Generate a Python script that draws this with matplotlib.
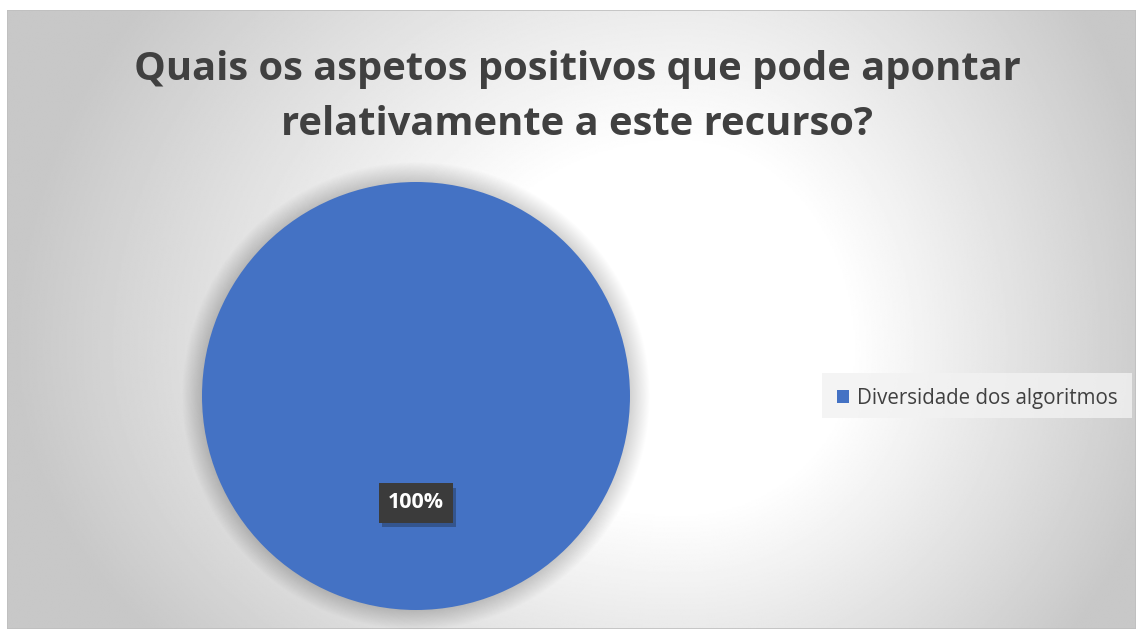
import numpy as np
import matplotlib.pyplot as plt
from matplotlib.patches import Circle, Rectangle
import matplotlib.patheffects as pe

categories = ["Diversidade dos algoritmos"]
values = [100]
title = "Quais os aspetos positivos que pode apontar\nrelativamente a este recurso?"
colors = ["#4472C4"]

W, H = 1136, 631
fig = plt.figure(figsize=(W / 100, H / 100), dpi=100)
fig.patch.set_facecolor("white")

# chart area background (radial gradient)
x0, y0, x1, y1 = 7, 10, 1136, 629
bg = fig.add_axes([x0 / W, 1 - y1 / H, (x1 - x0) / W, (y1 - y0) / H])
xs = np.linspace(x0, x1, 700)
ys = np.linspace(y0, y1, 450)
X, Y = np.meshgrid(xs, ys)
cx, cy = 680, 350
dx = np.where(X < cx, (X - cx) / 1.35, X - cx)
dy = np.where(Y < cy, (Y - cy) / 1.2, (Y - cy) / 0.95)
d = np.sqrt(dx ** 2 + dy ** 2)
t = np.clip((d - 170) / 320.0, 0, 1)
col = 1.0 - t * (1.0 - 0.785)
bg.imshow(col, cmap="gray", vmin=0, vmax=1, aspect="auto",
          extent=[0, 1, 0, 1], origin="upper", interpolation="bilinear")
bg.set_xlim(0, 1)
bg.set_ylim(0, 1)
bg.axis("off")
bg.add_patch(Rectangle((0, 0), 1, 1, transform=bg.transAxes, fill=False,
                       edgecolor="#bfbfbf", lw=1.2))

# title
fig.text(577 / W, 1 - 97 / H, title, ha="center", va="center",
         fontsize=28.7, fontweight="bold", color="#404040",
         family="Open Sans", linespacing=1.52)

# pie
pcx, pcy, r = 416, 396, 214
m = 1.15
ax = fig.add_axes([(pcx - r * m) / W, 1 - (pcy + r * m) / H,
                   2 * r * m / W, 2 * r * m / H])
ax.axis("off")
for i in range(22, 0, -1):
    ax.add_patch(Circle((0, 0), 1 + i * 0.0042, facecolor="#000000",
                        alpha=0.009, edgecolor="none", zorder=0))
wedges, texts, autotexts = ax.pie(values, colors=colors, startangle=90,
                                  counterclock=False, radius=1,
                                  autopct=lambda p: f"{p:.0f}%",
                                  pctdistance=0.5,
                                  wedgeprops=dict(edgecolor="none"),
                                  frame=False)
ax.set_xlim(-m, m)
ax.set_ylim(-m, m)
for w in wedges:
    w.set_zorder(2)
for at in autotexts:
    at.set_color("white")
    at.set_fontsize(15.5)
    at.set_fontweight("bold")
    at.set_family("Open Sans")
    at.set_zorder(5)
    at.set_bbox(dict(boxstyle="square,pad=0.42", facecolor="#3b3b3b",
                     edgecolor="none",
                     path_effects=[pe.SimplePatchShadow(offset=(2, -3), alpha=0.3),
                                   pe.Normal()]))

# legend
lax = fig.add_axes([822 / W, 1 - 418 / H, (1132 - 822) / W, (418 - 373) / H])
lax.set_xlim(0, 1)
lax.set_ylim(0, 1)
lax.axis("off")
lax.add_patch(Rectangle((0, 0), 1, 1, facecolor="#f2f2f2", alpha=0.8,
                        edgecolor="none"))
handles = [Rectangle((0, 0), 1, 1, facecolor=c) for c in colors]
leg = lax.legend(handles, categories, loc="center", frameon=False,
                 prop=dict(family="Open Sans", size=14.8),
                 handlelength=0.62, handleheight=0.62, handletextpad=0.35,
                 borderaxespad=0, bbox_to_anchor=(0.5, 0.44))
for t_ in leg.get_texts():
    t_.set_color("#404040")

fig.savefig("out.png", dpi=100)
